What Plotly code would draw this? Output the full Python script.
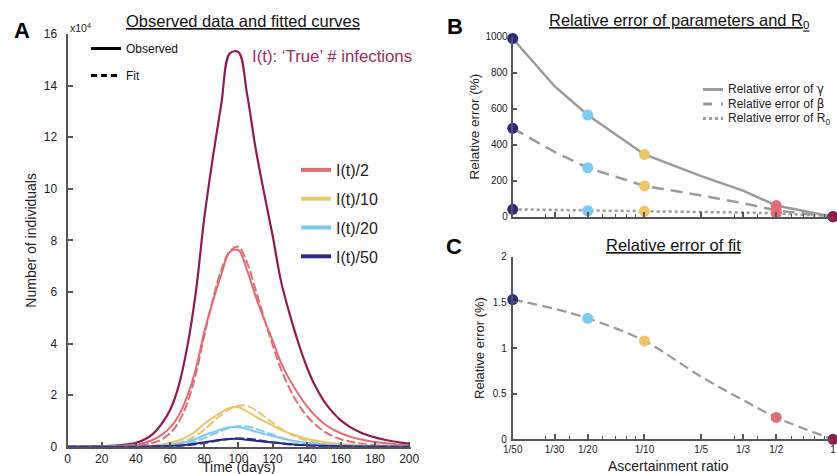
import plotly.graph_objects as go

# ---------------- Panel A data (values in units of 10^4) ----------------
days = list(range(0, 201, 5))
true_I = [0.00, 0.00, 0.01, 0.01, 0.02, 0.03, 0.05, 0.09, 0.15, 0.28, 0.50, 0.88, 1.42, 2.35, 3.85, 5.95,
          8.85, 11.20, 13.30, 15.25, 15.30, 13.70, 11.60, 9.85, 8.20, 6.40, 5.15, 4.05, 3.10, 2.35, 1.78,
          1.35, 1.02, 0.78, 0.60, 0.46, 0.36, 0.28, 0.21, 0.16, 0.12]
obs_2 = [0.00, 0.00, 0.00, 0.01, 0.01, 0.02, 0.03, 0.05, 0.08, 0.15, 0.27, 0.46, 0.74, 1.20, 1.95, 3.00,
         4.45, 5.62, 6.68, 7.55, 7.62, 6.85, 5.85, 4.95, 4.12, 3.25, 2.60, 2.05, 1.58, 1.20, 0.90,
         0.68, 0.52, 0.40, 0.31, 0.24, 0.18, 0.14, 0.11, 0.08, 0.06]
fit_2 = [0.00, 0.00, 0.00, 0.00, 0.00, 0.01, 0.01, 0.02, 0.04, 0.08, 0.15, 0.28, 0.52, 0.95, 1.68, 2.80,
         4.30, 5.70, 6.85, 7.58, 7.75, 7.15, 6.10, 5.00, 3.95, 3.00, 2.25, 1.65, 1.20, 0.86, 0.60,
         0.42, 0.29, 0.20, 0.14, 0.09, 0.06, 0.04, 0.03, 0.02, 0.01]
obs_10 = [0.00, 0.00, 0.00, 0.00, 0.00, 0.00, 0.01, 0.01, 0.02, 0.03, 0.05, 0.09, 0.15, 0.24, 0.39, 0.60,
          0.89, 1.12, 1.34, 1.51, 1.53, 1.37, 1.17, 0.99, 0.82, 0.65, 0.52, 0.41, 0.31, 0.24, 0.18,
          0.14, 0.10, 0.08, 0.06, 0.05, 0.04, 0.03, 0.02, 0.02, 0.01]
fit_10 = [0.00, 0.00, 0.00, 0.00, 0.00, 0.00, 0.00, 0.00, 0.01, 0.01, 0.02, 0.04, 0.08, 0.14, 0.25, 0.42,
          0.66, 0.95, 1.24, 1.47, 1.59, 1.58, 1.42, 1.18, 0.93, 0.70, 0.50, 0.35, 0.24, 0.16, 0.10,
          0.07, 0.04, 0.03, 0.02, 0.01, 0.01, 0.00, 0.00, 0.00, 0.00]
obs_20 = [0.00, 0.00, 0.00, 0.00, 0.00, 0.00, 0.00, 0.005, 0.01, 0.015, 0.025, 0.045, 0.075, 0.12, 0.195, 0.30,
          0.445, 0.56, 0.67, 0.755, 0.765, 0.685, 0.585, 0.495, 0.41, 0.325, 0.26, 0.205, 0.155, 0.12, 0.09,
          0.07, 0.05, 0.04, 0.03, 0.025, 0.02, 0.015, 0.01, 0.01, 0.005]
fit_20 = [0.00, 0.00, 0.00, 0.00, 0.00, 0.00, 0.00, 0.00, 0.00, 0.005, 0.01, 0.02, 0.04, 0.07, 0.125, 0.21,
          0.33, 0.48, 0.62, 0.73, 0.79, 0.78, 0.70, 0.58, 0.46, 0.35, 0.25, 0.18, 0.12, 0.08, 0.05,
          0.035, 0.02, 0.015, 0.01, 0.005, 0.00, 0.00, 0.00, 0.00, 0.00]
obs_50 = [0.00, 0.00, 0.00, 0.00, 0.00, 0.00, 0.00, 0.00, 0.00, 0.005, 0.01, 0.02, 0.03, 0.045, 0.075, 0.12,
          0.175, 0.225, 0.265, 0.30, 0.305, 0.27, 0.23, 0.195, 0.165, 0.13, 0.105, 0.08, 0.06, 0.045, 0.035,
          0.025, 0.02, 0.015, 0.01, 0.01, 0.005, 0.005, 0.00, 0.00, 0.00]
fit_50 = [0.00, 0.00, 0.00, 0.00, 0.00, 0.00, 0.00, 0.00, 0.00, 0.00, 0.005, 0.01, 0.02, 0.03, 0.05, 0.09,
          0.14, 0.20, 0.26, 0.30, 0.32, 0.31, 0.27, 0.22, 0.17, 0.13, 0.09, 0.065, 0.045, 0.03, 0.02,
          0.015, 0.01, 0.005, 0.00, 0.00, 0.00, 0.00, 0.00, 0.00, 0.00]
series_names = ["I(t)/2", "I(t)/10", "I(t)/20", "I(t)/50"]
time_ticks = list(range(0, 201, 20))
count_ticks = list(range(0, 17, 2))

# ---------------- Panels B & C data ----------------
ratio_line = [1/50, 1/30, 1/20, 1/10, 1/5, 1/3, 1/2, 1]
gamma_err = [990, 725, 565, 346, 225, 145, 62, 0]
beta_err = [491, 360, 272, 171, 118, 75, 35, 0]
r0_err = [41, 37, 33, 30, 26, 23, 19, 0]
fit_err = [1.53, 1.43, 1.325, 1.077, 0.685, 0.43, 0.24, 0.0]

ratio_pts = [1/50, 1/20, 1/10, 1/2, 1]
gamma_pts = [990, 565, 346, 62, 0]
beta_pts = [491, 272, 171, 35, 0]
r0_pts = [41, 33, 30, 19, 0]
fit_pts = [1.53, 1.325, 1.077, 0.24, 0.0]

param_names = ["Relative error of <span style='font-family:DejaVu Sans'>γ</span>",
               "Relative error of <span style='font-family:DejaVu Sans'>β</span>",
               "Relative error of R<sub>0</sub>"]
ratio_tickvals = [1/50, 1/30, 1/20, 1/10, 1/5, 1/3, 1/2, 1]
ratio_ticktext = ["1/50", "1/30", "1/20", "1/10", "1/5", "1/3", "1/2", "1"]
ratio_minor = [0.02, 0.03, 0.04, 0.05, 0.06, 0.07, 0.08, 0.09, 0.1, 0.2, 0.3, 0.4, 0.5, 0.6, 0.7, 0.8, 0.9, 1.0]

# ---------------- styles ----------------
C_TRUE = "#8E1B52"
C_RED = "#DF6D76"
C_YEL = "#EBC566"
C_BLUE = "#7CC9F1"
C_NAVY = "#2B2983"
GRAY = "#9A9A9A"
AX = "#555555"
FONT = "Liberation Sans, Arial, sans-serif"
pt_colors = [C_NAVY, C_BLUE, C_YEL, C_RED, C_TRUE]
param_dash = ["solid", "12px,7px", "3px,3px"]
key_dash = ["solid", "dash", "dot"]

fig = go.Figure()

# Panel A curves
fig.add_trace(go.Scatter(x=days, y=true_I, mode="lines", line=dict(color=C_TRUE, width=2.2, shape="spline"),
                         showlegend=False, xaxis="x", yaxis="y"))
for obs, fit, col in [(obs_2, fit_2, C_RED), (obs_10, fit_10, C_YEL), (obs_20, fit_20, C_BLUE), (obs_50, fit_50, C_NAVY)]:
    fig.add_trace(go.Scatter(x=days, y=obs, mode="lines", line=dict(color=col, width=2, shape="spline"),
                             showlegend=False, xaxis="x", yaxis="y"))
    fig.add_trace(go.Scatter(x=days, y=fit, mode="lines", line=dict(color=col, width=2, shape="spline", dash="9px,3px"),
                             showlegend=False, xaxis="x", yaxis="y"))

# Legend entries panel A (style key)
fig.add_trace(go.Scatter(x=[None], y=[None], mode="lines", name="Observed", line=dict(color="black", width=3),
                         legend="legend", legendgroup="o", xaxis="x", yaxis="y"))
fig.add_trace(go.Scatter(x=[None], y=[None], mode="lines", name="Fit", line=dict(color="black", width=3, dash="6px,4px"),
                         legend="legend", legendgroup="f", xaxis="x", yaxis="y"))
for nm, col in zip(series_names, [C_RED, C_YEL, C_BLUE, C_NAVY]):
    fig.add_trace(go.Scatter(x=[None], y=[None], mode="lines", name=nm, line=dict(color=col, width=4),
                             legend="legend2", legendgroup=nm, xaxis="x", yaxis="y"))

# Panel B lines
for vals, nm, dsh in zip([gamma_err, beta_err, r0_err], param_names, param_dash):
    fig.add_trace(go.Scatter(x=ratio_line, y=vals, mode="lines", name=nm, showlegend=False,
                             line=dict(color=GRAY, width=2.5, dash=dsh), xaxis="x2", yaxis="y2"))
for vals in [gamma_pts, beta_pts, r0_pts]:
    fig.add_trace(go.Scatter(x=ratio_pts, y=vals, mode="markers", marker=dict(color=pt_colors, size=11),
                             cliponaxis=False, showlegend=False, xaxis="x2", yaxis="y2"))

# Panel C
fig.add_trace(go.Scatter(x=ratio_line, y=fit_err, mode="lines", line=dict(color=GRAY, width=2.2, dash="10px,5px", shape="spline"),
                         showlegend=False, xaxis="x3", yaxis="y3"))
fig.add_trace(go.Scatter(x=ratio_pts, y=fit_pts, mode="markers", marker=dict(color=pt_colors, size=11),
                         cliponaxis=False, showlegend=False, xaxis="x3", yaxis="y3"))

W, H = 837, 474
def px(x):
    return x / W
def py(y):
    return 1 - y / H

axis_common = dict(showline=True, linecolor=AX, linewidth=2, ticks="inside", tickcolor=AX, tickwidth=1.5,
                   showgrid=False, zeroline=False, automargin=False)

def tf(size):
    return dict(family=FONT, color="#222", size=size)

log_x = dict(type="log", range=[-1.699, 0.0], tickmode="array", tickvals=ratio_tickvals, ticktext=ratio_ticktext,
             ticklen=5, minor=dict(tickmode="array", tickvals=ratio_minor, ticks="inside", ticklen=3,
                                   tickcolor=AX, tickwidth=1.2))

fig.update_layout(
    width=W, height=H, margin=dict(l=0, r=0, t=0, b=0, autoexpand=False),
    paper_bgcolor="white", plot_bgcolor="white",
    font=dict(family=FONT, color="#222"),
    xaxis=dict(domain=[px(67.6), px(410.9)], range=[0, 201], tickmode="array", tickvals=time_ticks,
               ticklen=5, anchor="y", tickfont=tf(12), **axis_common),
    yaxis=dict(domain=[py(446.7), py(34)], range=[0, 16], tickmode="array", tickvals=count_ticks,
               ticklen=5, anchor="x", ticklabelstandoff=6, tickfont=tf(12),
               title=dict(text="Number of individuals", font=tf(14), standoff=4), **axis_common),
    xaxis2=dict(domain=[px(512.7), px(833)], anchor="y2", showticklabels=False, **log_x, **axis_common),
    yaxis2=dict(domain=[py(216.7), py(36.7)], range=[0, 1000], tickmode="array", tickvals=[0, 200, 400, 600, 800, 1000],
                ticklen=4, anchor="x2", ticklabelstandoff=1, tickfont=tf(10),
                title=dict(text="Relative error (%)", font=tf(13.5), standoff=3), **axis_common),
    xaxis3=dict(domain=[px(512.7), px(833)], anchor="y3", tickfont=tf(10), **log_x, **axis_common),
    yaxis3=dict(domain=[py(439.3), py(256.7)], range=[0, 2], tickmode="array", tickvals=[0, 0.5, 1, 1.5, 2],
                ticktext=["0", "0.5", "1", "1.5", "2"], ticklen=4, anchor="x3", ticklabelstandoff=2, tickfont=tf(10),
                title=dict(text="Relative error (%)", font=tf(13), standoff=5), **axis_common),
    legend=dict(x=px(86), y=py(34), xanchor="left", yanchor="top", bgcolor="rgba(0,0,0,0)",
                font=dict(size=12, family=FONT, color="#111"), tracegroupgap=8, itemwidth=30),
    legend2=dict(x=px(296), y=py(153), xanchor="left", yanchor="top", bgcolor="rgba(0,0,0,0)",
                 font=dict(size=16, family=FONT, color="#222"), tracegroupgap=5, itemwidth=30),
)

# Panel B key (legend drawn as sample strokes + labels)
key_rows = [89.5, 104, 118.5]
for yy, nm, kd in zip(key_rows, param_names, key_dash):
    fig.add_shape(type="line", xref="paper", yref="paper", x0=px(703), x1=px(723), y0=py(yy), y1=py(yy),
                  line=dict(color=GRAY, width=3, dash=kd))
    fig.add_annotation(xref="paper", yref="paper", x=px(726), y=py(yy), text=nm, showarrow=False,
                       xanchor="left", yanchor="middle", font=dict(family=FONT, size=12, color="#222"))

annots = [
    dict(x=px(22), y=py(31), text="<b>A</b>", font=dict(size=22, color="black")),
    dict(x=px(455), y=py(27), text="<b>B</b>", font=dict(size=22, color="black")),
    dict(x=px(454), y=py(246), text="<b>C</b>", font=dict(size=22, color="black")),
    dict(x=px(243), y=py(21), text="<u>Observed data and fitted curves</u>", font=dict(size=16.5, color="#111")),
    dict(x=px(679), y=py(21), text="<u>Relative error of parameters and R<sub>0</sub></u>", font=dict(size=16.5, color="#111")),
    dict(x=px(673), y=py(245), text="<u>Relative error of fit</u>", font=dict(size=16.5, color="#111")),
    dict(x=px(68), y=py(28), text="x10<sup>4</sup>", xanchor="left", font=dict(size=10.5, color="#222")),
    dict(x=px(250), y=py(57), text="I(t): ‘True’ # infections", xanchor="left", font=dict(size=16.8, color="#9B2C63")),
    dict(x=px(238), y=py(467), text="Time (days)", font=dict(size=14, color="#222")),
    dict(x=px(668), y=py(466), text="Ascertainment ratio", font=dict(size=14, color="#222")),
]
for a in annots:
    a.setdefault("xanchor", "center")
    fig.add_annotation(xref="paper", yref="paper", showarrow=False, yanchor="middle",
                       font_family=FONT, **{k: v for k, v in a.items()})

fig.write_html("out.html", include_plotlyjs=True, config={"displayModeBar": False},
               post_script="document.body.style.margin='0px'; document.body.style.overflow='hidden';")
